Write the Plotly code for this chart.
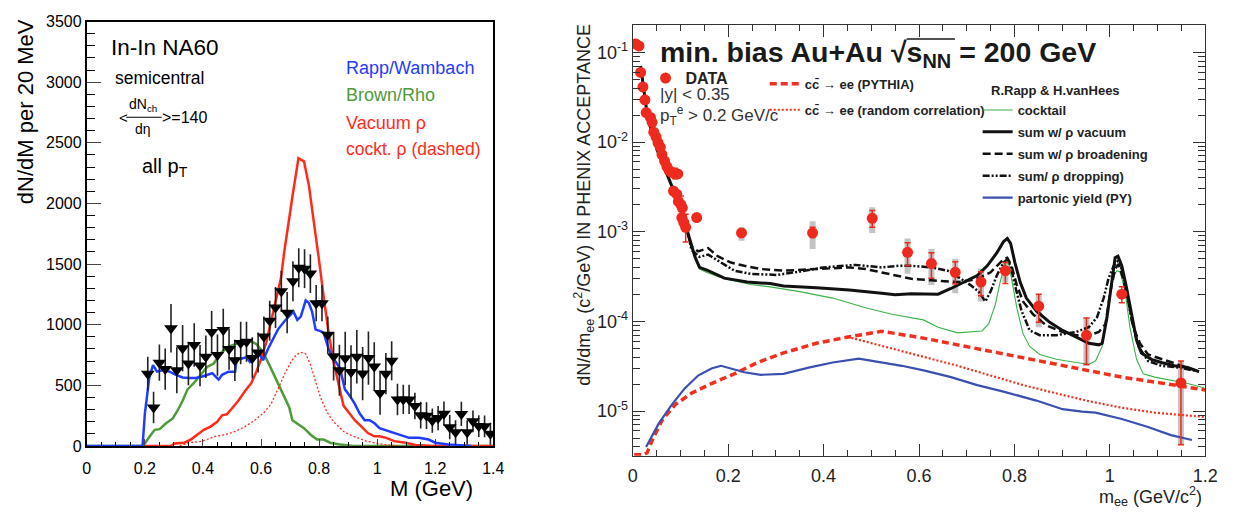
import plotly.graph_objects as go

W, H = 1237, 513
def px(x): return x / W
def py(y): return 1 - y / H

# ---------------- Left panel: In-In NA60 ----------------
na60_mass = [0.21, 0.23, 0.25, 0.27, 0.29, 0.31, 0.33, 0.35, 0.37, 0.39,
             0.41, 0.43, 0.45, 0.47, 0.49, 0.51, 0.53, 0.55, 0.57, 0.59,
             0.61, 0.63, 0.65, 0.67, 0.69, 0.71, 0.73, 0.75, 0.77, 0.79,
             0.81, 0.83, 0.85, 0.87, 0.89, 0.91, 0.93, 0.95, 0.97, 0.99,
             1.01, 1.03, 1.05, 1.07, 1.09, 1.11, 1.13, 1.15, 1.17, 1.19,
             1.21, 1.23, 1.25, 1.27, 1.29, 1.31, 1.33, 1.35, 1.37, 1.39]
na60_yield = [595, 317, 687, 634, 970, 624, 807, 680, 833, 663,
              736, 939, 750, 956, 799, 706, 850, 860, 726, 770,
              903, 1032, 1142, 1275, 1099, 1358, 1470, 1462, 1422, 1178,
              1178, 917, 740, 624, 723, 610, 736, 597, 725, 656,
              437, 596, 703, 384, 384, 384, 330, 254, 250, 210,
              230, 266, 155, 113, 264, 113, 203, 164, 162, 101]
na60_err = [140, 130, 150, 170, 200, 190, 190, 180, 180, 170,
            175, 175, 170, 175, 170, 170, 175, 165, 170, 165,
            165, 165, 170, 170, 170, 165, 160, 160, 160, 150,
            150, 150, 200, 210, 220, 220, 220, 220, 220, 200,
            180, 170, 160, 130, 120, 120, 110, 110, 110, 100,
            100, 100, 100, 100, 100, 100, 90, 90, 90, 90]

rw_mass = [0.0, 0.192, 0.2, 0.215, 0.228, 0.242, 0.262, 0.285, 0.307, 0.33, 0.353, 0.375,
           0.398, 0.415, 0.432, 0.443, 0.454, 0.466, 0.488, 0.511, 0.516, 0.533, 0.55,
           0.562, 0.578, 0.595, 0.607, 0.624, 0.641, 0.658, 0.68, 0.703, 0.712, 0.725,
           0.737, 0.754, 0.765, 0.776, 0.788, 0.805, 0.816, 0.833, 0.85, 0.872, 0.889,
           0.906, 0.923, 0.94, 0.957, 0.974, 0.991, 1.008, 1.042, 1.076, 1.11, 1.144,
           1.177, 1.2, 1.245, 1.302, 1.324]
rw_val = [0, 0, 267, 560, 667, 613, 627, 613, 587, 565, 560, 560,
          573, 587, 600, 573, 547, 587, 613, 613, 720, 720, 733,
          693, 720, 760, 707, 800, 880, 960, 1027, 1080, 1107, 1040,
          1067, 1200, 1179, 1107, 960, 947, 933, 800, 720, 640, 467,
          413, 347, 267, 213, 213, 187, 147, 120, 93, 67, 67,
          53, 27, 13, 5, 0]

br_mass = [0.0, 0.194, 0.217, 0.234, 0.251, 0.273, 0.296, 0.313, 0.33, 0.347, 0.369,
           0.392, 0.415, 0.437, 0.46, 0.482, 0.511, 0.533, 0.562, 0.584, 0.607, 0.629,
           0.652, 0.675, 0.697, 0.708, 0.725, 0.748, 0.771, 0.793, 0.816, 0.838, 0.872,
           0.918, 1.4]
br_val = [0, 0, 80, 133, 139, 187, 227, 293, 373, 467, 520,
          587, 653, 680, 760, 813, 840, 853, 867, 840, 773, 667,
          547, 427, 320, 213, 187, 147, 93, 53, 53, 27, 13,
          0, 0]

vac_mass = [0.195, 0.29, 0.302, 0.336, 0.358, 0.381, 0.403, 0.426, 0.449, 0.466, 0.482,
            0.499, 0.522, 0.545, 0.567, 0.584, 0.601, 0.618, 0.635, 0.652, 0.669, 0.68,
            0.692, 0.708, 0.729, 0.748, 0.765, 0.782, 0.799, 0.816, 0.833, 0.85, 0.867,
            0.884, 0.901, 0.923, 0.946, 0.968, 0.991, 1.008, 1.031, 1.059, 1.098, 1.132,
            1.189, 1.4]
vac_val = [0, 0, 21, 27, 53, 93, 133, 160, 200, 253, 261,
           307, 373, 453, 520, 613, 720, 853, 1027, 1227, 1387, 1600,
           1813, 2053, 2373, 2347, 2147, 1867, 1547, 1227, 933, 693, 507,
           333, 280, 213, 160, 107, 80, 80, 67, 40, 27, 8,
           0, 0]

cockt_mass = [0.32, 0.353, 0.398, 0.443, 0.477, 0.511, 0.545, 0.579, 0.612, 0.635, 0.658,
              0.68, 0.703, 0.72, 0.737, 0.754, 0.771, 0.788, 0.805, 0.827, 0.85, 0.884,
              0.918, 0.963, 1.019, 1.076]
cockt_val = [0, 27, 40, 80, 93, 120, 160, 213, 280, 347, 467,
             587, 693, 747, 773, 760, 667, 533, 400, 280, 200, 120,
             80, 40, 13, 0]

# ---------------- Right panel: PHENIX Au+Au ----------------
data_m = [0.0062, 0.0131, 0.0165, 0.0213, 0.0255, 0.0282, 0.0372, 0.0406, 0.0441, 0.0489,
          0.0530, 0.0578, 0.0613, 0.0668, 0.0716, 0.0764, 0.0819, 0.0854, 0.0888, 0.0922,
          0.0943, 0.0957, 0.101, 0.103, 0.104, 0.107, 0.111, 0.134, 0.228, 0.377,
          0.502, 0.576, 0.626, 0.676, 0.730, 0.781, 0.851, 0.951, 1.025, 1.149]
data_y = [0.124, 0.118, 0.0598, 0.0412, 0.0296, 0.0213, 0.0188, 0.0166, 0.0129, 0.0114,
          9.85e-3, 8.77e-3, 7.25e-3, 6.14e-3, 5.33e-3, 4.79e-3, 4.6e-3, 2.84e-3, 4.41e-3, 2.62e-3,
          4.41e-3, 2.18e-3, 2.01e-3, 1.44e-3, 1.85e-3, 1.27e-3, 1.12e-3, 1.44e-3, 9.7e-4, 9.7e-4,
          1.41e-3, 5.9e-4, 4.42e-4, 3.53e-4, 2.75e-4, 3.68e-4, 1.48e-4, 7.0e-5, 2.01e-4, 2.06e-5]
data_err_up = [0, 0, 0, 0, 0, 0, 0, 0, 0, 0,
               0, 0, 0, 0, 0, 0, 0, 0, 7e-4, 0,
               0, 0, 5e-4, 0, 0, 0, 4.5e-4, 5e-5, 5e-5, 1.5e-4,
               3.2e-4, 1.65e-4, 1.4e-4, 1.1e-4, 8.4e-5, 8.5e-5, 5.3e-5, 3.9e-5, 4.2e-5, 1.56e-5]
data_err_dn = [0, 0, 0, 0, 0, 0, 0, 0, 0, 0,
               0, 0, 0, 0, 0, 0, 0, 0, 5e-4, 0,
               0, 0, 3e-4, 0, 0, 0, 3.5e-4, 5e-5, 5e-5, 1.1e-4,
               2.9e-4, 1.73e-4, 1.4e-4, 9e-5, 8.2e-5, 1.04e-4, 5.0e-5, 3.7e-5, 4.0e-5, 1.64e-5]

sys_m = [0.228, 0.377, 0.502, 0.576, 0.626, 0.676, 0.730, 0.781, 0.851, 0.951, 1.149]
sys_y = [9.7e-4, 9.7e-4, 1.41e-3, 5.9e-4, 4.42e-4, 3.53e-4, 2.75e-4, 3.68e-4, 1.48e-4, 7.0e-5, 2.06e-5]
sys_hi = [1.125e-3, 1.31e-3, 1.88e-3, 8.41e-4, 6.41e-4, 5.0e-4, 3.9e-4, 4.71e-4, 1.98e-4, 1.1e-4, 3.62e-5]
sys_lo = [7.94e-4, 6.41e-4, 9.7e-4, 3.39e-4, 2.54e-4, 2.06e-4, 1.67e-4, 2.75e-4, 8.6e-5, 3.2e-5, 4.2e-6]

vac_sum_m = [0.0165, 0.0234, 0.0303, 0.0406, 0.0509, 0.0647, 0.0785, 0.0922, 0.106, 0.120,
             0.130, 0.140, 0.158, 0.192, 0.240, 0.288, 0.316, 0.385, 0.454, 0.522,
             0.550, 0.584, 0.640, 0.667, 0.695, 0.722, 0.743, 0.763, 0.777, 0.785,
             0.792, 0.801, 0.812, 0.825, 0.846, 0.874, 0.901, 0.935, 0.956, 0.977,
             0.984, 0.994, 1.004, 1.011, 1.017, 1.025, 1.035, 1.046, 1.056, 1.066,
             1.087, 1.108, 1.135, 1.163, 1.187]
vac_sum_y = [7.06e-2, 3.64e-2, 2.04e-2, 1.24e-2, 8.2e-3, 5.42e-3, 3.58e-3, 2.37e-3, 1.44e-3, 8.07e-4,
             5.33e-4, 4.0e-4, 3.68e-4, 3.04e-4, 2.75e-4, 2.64e-4, 2.49e-4, 2.37e-4, 2.24e-4, 2.06e-4,
             1.98e-4, 2.03e-4, 2.01e-4, 2.33e-4, 2.75e-4, 3.25e-4, 4.17e-4, 5.80e-4, 7.74e-4, 8.41e-4,
             7.43e-4, 4.53e-4, 2.75e-4, 1.82e-4, 1.31e-4, 9.77e-5, 7.94e-5, 6.47e-5, 5.71e-5, 5.48e-5,
             5.71e-5, 1.11e-4, 2.75e-4, 5.12e-4, 5.33e-4, 4.17e-4, 2.37e-4, 1.11e-4, 6.19e-5, 4.45e-5,
             3.78e-5, 3.48e-5, 3.2e-5, 3.07e-5, 2.76e-5]

broad_m = [0.106, 0.115, 0.123, 0.137, 0.158, 0.178, 0.206, 0.234, 0.268, 0.316,
           0.385, 0.454, 0.488, 0.522, 0.557, 0.584, 0.626, 0.681, 0.708, 0.729,
           0.750, 0.763, 0.777, 0.785, 0.794, 0.805, 0.818, 0.839, 0.867, 0.901,
           0.929, 0.956, 0.977, 0.991, 1.001, 1.011, 1.018, 1.028, 1.039, 1.049,
           1.063, 1.080, 1.101, 1.128, 1.163, 1.187]
broad_y = [1.44e-3, 1.0e-3, 6.84e-4, 6.04e-4, 6.56e-4, 5.33e-4, 4.53e-4, 4.17e-4, 3.84e-4, 3.68e-4,
           3.84e-4, 4.0e-4, 3.84e-4, 3.53e-4, 3.25e-4, 2.99e-4, 2.87e-4, 2.75e-4, 2.87e-4, 3.1e-4,
           3.53e-4, 4.17e-4, 4.92e-4, 5.12e-4, 4.17e-4, 2.54e-4, 1.67e-4, 1.2e-4, 9.0e-5, 7.62e-5,
           7.02e-5, 7.02e-5, 7.62e-5, 9.38e-5, 2.15e-4, 3.84e-4, 4.35e-4, 2.99e-4, 1.67e-4, 8.63e-5,
           5.71e-5, 4.28e-5, 3.94e-5, 3.48e-5, 3.07e-5, 2.76e-5]

drop_m = [0.106, 0.115, 0.123, 0.140, 0.158, 0.185, 0.213, 0.247, 0.302, 0.350,
          0.399, 0.467, 0.522, 0.557, 0.584, 0.626, 0.660, 0.688, 0.708, 0.725,
          0.739, 0.750, 0.763, 0.777, 0.785, 0.792, 0.801, 0.815, 0.832, 0.853,
          0.888, 0.929, 0.956, 0.973, 0.987, 0.997, 1.008, 1.017, 1.025, 1.035,
          1.046, 1.060, 1.080, 1.108, 1.142, 1.187]
drop_y = [1.44e-3, 1.0e-3, 6.3e-4, 5.24e-4, 5.56e-4, 4.53e-4, 3.68e-4, 3.39e-4, 3.3e-4, 3.59e-4,
          4.0e-4, 4.27e-4, 4.0e-4, 4.17e-4, 4.17e-4, 4.0e-4, 3.68e-4, 2.99e-4, 2.54e-4, 2.15e-4,
          1.67e-4, 2.15e-4, 3.25e-4, 4.53e-4, 4.92e-4, 4.17e-4, 2.54e-4, 1.31e-4, 7.94e-5, 7.02e-5,
          7.02e-5, 7.62e-5, 8.63e-5, 1.11e-4, 1.82e-4, 2.99e-4, 4.17e-4, 4.71e-4, 3.84e-4, 2.15e-4,
          1.02e-4, 5.26e-5, 3.62e-5, 3.2e-5, 3.07e-5, 2.76e-5]

cocktail_m = [0.130, 0.140, 0.158, 0.192, 0.247, 0.288, 0.350, 0.419, 0.488, 0.543,
              0.609, 0.640, 0.681, 0.732, 0.746, 0.760, 0.770, 0.781, 0.788, 0.794,
              0.805, 0.818, 0.832, 0.853, 0.888, 0.929, 0.956, 0.970, 0.984, 0.997,
              1.008, 1.015, 1.022, 1.032, 1.042, 1.056, 1.070, 1.094, 1.128, 1.163, 1.197]
cocktail_y = [5.0e-4, 3.84e-4, 3.47e-4, 3.0e-4, 2.58e-4, 2.43e-4, 2.15e-4, 1.82e-4, 1.42e-4, 1.2e-4,
              1.04e-4, 8.63e-5, 7.45e-5, 7.82e-5, 9.38e-5, 1.54e-4, 2.75e-4, 4.53e-4, 4.53e-4, 2.99e-4,
              1.42e-4, 7.3e-5, 5.26e-5, 4.28e-5, 3.78e-5, 3.48e-5, 3.33e-5, 3.62e-5, 5.26e-5, 1.54e-4,
              3.25e-4, 3.68e-4, 3.53e-4, 2.15e-4, 8.63e-5, 3.78e-5, 2.6e-5, 2.39e-5, 2.2e-5, 2.03e-5, 1.82e-5]

pythia_m = [0.003, 0.023, 0.030, 0.041, 0.061, 0.089, 0.123, 0.165, 0.213, 0.261,
            0.316, 0.385, 0.454, 0.522, 0.543, 0.612, 0.681, 0.750, 0.818, 0.887,
            0.956, 1.025, 1.094, 1.2]
pythia_y = [3.25e-6, 3.25e-6, 3.42e-6, 4.76e-6, 7.83e-6, 1.18e-5, 1.58e-5, 2.03e-5, 2.6e-5, 3.48e-5,
            4.45e-5, 5.71e-5, 6.73e-5, 7.76e-5, 7.45e-5, 6.47e-5, 5.48e-5, 4.64e-5, 3.94e-5, 3.33e-5,
            2.83e-5, 2.39e-5, 2.11e-5, 1.72e-5]

random_m = [0.450, 0.488, 0.543, 0.612, 0.681, 0.750, 0.818, 0.887, 0.956, 1.025, 1.094, 1.2]
random_y = [6.73e-5, 5.96e-5, 4.92e-5, 3.94e-5, 3.2e-5, 2.49e-5, 1.95e-5, 1.58e-5, 1.29e-5,
            1.09e-5, 9.6e-6, 8.6e-6]

parton_m = [0.028, 0.054, 0.082, 0.109, 0.137, 0.165, 0.185, 0.206, 0.234, 0.268,
            0.316, 0.371, 0.419, 0.474, 0.522, 0.564, 0.612, 0.667, 0.722, 0.777,
            0.846, 0.901, 0.942, 0.970, 1.025, 1.080, 1.128, 1.172]
parton_y = [3.97e-6, 7.2e-6, 1.18e-5, 1.79e-5, 2.49e-5, 2.99e-5, 3.2e-5, 2.99e-5, 2.71e-5, 2.54e-5,
            2.6e-5, 3.07e-5, 3.48e-5, 3.84e-5, 3.48e-5, 3.2e-5, 2.83e-5, 2.39e-5, 1.95e-5, 1.65e-5,
            1.31e-5, 1.05e-5, 9.86e-6, 9.6e-6, 8.17e-6, 6.64e-6, 5.4e-6, 4.76e-6]

log_tick_vals = [1e-5, 1e-4, 1e-3, 1e-2, 1e-1]
log_tick_text = ["10<sup>-5</sup>", "10<sup>-4</sup>", "10<sup>-3</sup>", "10<sup>-2</sup>", "10<sup>-1</sup>"]

# ---------------- Figure ----------------
FONT = "Liberation Sans"
BLUE, GREEN, RED = "#1f3cff", "#4f9a3a", "#ff2b1a"
PRED = "#ee2a1e"
fig = go.Figure()

# left panel traces
fig.add_trace(go.Scatter(x=br_mass, y=br_val, mode="lines", line=dict(color=GREEN, width=2.5),
                         xaxis="x", yaxis="y", showlegend=False))
fig.add_trace(go.Scatter(x=cockt_mass, y=cockt_val, mode="lines",
                         line=dict(color=RED, width=1.3, dash="2px,2px"),
                         xaxis="x", yaxis="y", showlegend=False))
fig.add_trace(go.Scatter(x=vac_mass, y=vac_val, mode="lines", line=dict(color=RED, width=2.5),
                         xaxis="x", yaxis="y", showlegend=False))
fig.add_trace(go.Scatter(x=rw_mass, y=rw_val, mode="lines", line=dict(color=BLUE, width=2.5),
                         xaxis="x", yaxis="y", showlegend=False))
fig.add_trace(go.Scatter(x=na60_mass, y=na60_yield, mode="markers",
                         marker=dict(symbol="triangle-down", size=12, color="black"),
                         error_y=dict(type="data", array=na60_err, color="#222", thickness=1.6, width=0),
                         xaxis="x", yaxis="y", showlegend=False))

# right panel traces
fig.add_trace(go.Scatter(x=sys_m, y=sys_y, mode="markers",
                         marker=dict(size=1, color="rgba(0,0,0,0)"),
                         error_y=dict(type="data", symmetric=False,
                                      array=[h - v for h, v in zip(sys_hi, sys_y)],
                                      arrayminus=[v - l for v, l in zip(sys_y, sys_lo)],
                                      color="rgba(175,175,175,0.75)", thickness=6, width=0),
                         xaxis="x2", yaxis="y2", showlegend=False))
fig.add_trace(go.Scatter(x=pythia_m, y=pythia_y, mode="lines", name="<b>cc̄ → ee (PYTHIA)</b>",
                         line=dict(color="#f0301e", width=3.5, dash="7px,4px"),
                         xaxis="x2", yaxis="y2", legend="legend2", legendgroup="a"))
fig.add_trace(go.Scatter(x=random_m, y=random_y, mode="lines",
                         name="<b>cc̄ → ee (random correlation)</b>",
                         line=dict(color="#f0301e", width=2.2, dash="2px,2px"),
                         xaxis="x2", yaxis="y2", legend="legend2", legendgroup="b"))
fig.add_trace(go.Scatter(x=parton_m, y=parton_y, mode="lines", name="<b>partonic yield (PY)</b>",
                         line=dict(color="#3a4fb0", width=2.2),
                         xaxis="x2", yaxis="y2", legend="legend3", legendgroup="g", legendrank=5))
fig.add_trace(go.Scatter(x=cocktail_m, y=cocktail_y, mode="lines", name="<b>cocktail</b>",
                         line=dict(color="#3cb24a", width=1.1),
                         xaxis="x2", yaxis="y2", legend="legend3", legendgroup="c", legendrank=1))
fig.add_trace(go.Scatter(x=drop_m, y=drop_y, mode="lines", name="<b>sum/ ρ dropping)</b>",
                         line=dict(color="#111", width=2.5, dash="7px,2px,2px,2px,2px,2px"),
                         xaxis="x2", yaxis="y2", legend="legend3", legendgroup="f", legendrank=4))
fig.add_trace(go.Scatter(x=broad_m, y=broad_y, mode="lines", name="<b>sum w/ ρ broadening</b>",
                         line=dict(color="#111", width=2.5, dash="8px,4px"),
                         xaxis="x2", yaxis="y2", legend="legend3", legendgroup="e", legendrank=3))
fig.add_trace(go.Scatter(x=vac_sum_m, y=vac_sum_y, mode="lines", name="<b>sum w/ ρ vacuum</b>",
                         line=dict(color="#111", width=3),
                         xaxis="x2", yaxis="y2", legend="legend3", legendgroup="d", legendrank=2))
fig.add_trace(go.Scatter(x=data_m, y=data_y, mode="markers", name="<b>DATA</b>",
                         marker=dict(symbol="circle", size=11, color=PRED),
                         error_y=dict(type="data", symmetric=False, array=data_err_up,
                                      arrayminus=data_err_dn, color=PRED, thickness=1.5, width=3),
                         xaxis="x2", yaxis="y2", legend="legend"))

axis_common = dict(showgrid=False, zeroline=False, ticks="inside", showline=True)

fig.update_layout(
    width=W, height=H, autosize=False,
    margin=dict(l=0, r=0, t=0, b=0),
    paper_bgcolor="white", plot_bgcolor="white",
    font=dict(family=FONT, color="black"),
    xaxis=dict(axis_common, domain=[px(83), px(495.5)], range=[0, 1.4], anchor="y",
               tick0=0, dtick=0.2, ticklen=7, tickwidth=1.2, mirror=True,
               linecolor="black", linewidth=1.5,
               minor=dict(ticks="inside", dtick=0.05, ticklen=4, tickcolor="black"),
               tickfont=dict(size=16, family=FONT, color="black"), ticklabelstandoff=7),
    yaxis=dict(axis_common, domain=[py(453), py(14)], range=[0, 3500], anchor="x",
               tick0=0, dtick=500, ticklen=14, tickwidth=1.2, mirror=True,
               linecolor="black", linewidth=2,
               minor=dict(ticks="inside", dtick=100, ticklen=8, tickcolor="black"),
               tickfont=dict(size=16, family=FONT, color="black")),
    xaxis2=dict(axis_common, domain=[px(637), px(1218)], range=[0, 1.2], anchor="y2",
                tick0=0, dtick=0.2, ticklen=12, tickwidth=1, mirror="ticks",
                linecolor="#333", linewidth=1, tickcolor="#333",
                minor=dict(ticks="inside", dtick=0.05, ticklen=6, tickcolor="#333"),
                tickfont=dict(size=18, family=FONT, color="#222"), ticklabelstandoff=4),
    yaxis2=dict(axis_common, type="log", domain=[py(463), py(18)], range=[-5.497, -0.699],
                anchor="x2", tickvals=log_tick_vals, ticktext=log_tick_text,
                ticklen=12, tickwidth=1, mirror="ticks", linecolor="#333", linewidth=1,
                tickcolor="#333",
                minor=dict(ticks="inside", ticklen=7, tickcolor="#333",
                           tickvals=[k * 10.0 ** e for e in range(-6, 0) for k in range(2, 10)]),
                tickfont=dict(size=18, family=FONT, color="#222")),
    legend=dict(x=px(650), y=py(55), xanchor="left", yanchor="top", bgcolor="rgba(0,0,0,0)",
                font=dict(size=16, family=FONT, color="#222")),
    legend2=dict(x=px(771), y=py(63), xanchor="left", yanchor="top", bgcolor="rgba(0,0,0,0)",
                 font=dict(size=13, family=FONT, color="#222"), tracegroupgap=6,
                 traceorder="grouped"),
    legend3=dict(x=px(987), y=py(90), xanchor="left", yanchor="top", bgcolor="rgba(0,0,0,0)",
                 font=dict(size=13, family=FONT, color="#222"), tracegroupgap=2,
                 traceorder="grouped"),
)

ann = []
def A(text, x, y, size, color="black", xanchor="left", yanchor="middle", angle=0):
    ann.append(dict(text=text, x=px(x), y=py(y), xref="paper", yref="paper", showarrow=False,
                    xanchor=xanchor, yanchor=yanchor, textangle=angle,
                    font=dict(size=size, color=color, family=FONT)))

# left panel texts
A("In-In NA60", 106, 41, 22.5)
A("semicentral", 110, 72, 17.5)
A("&lt;", 114, 113, 15)
A("dN<sub>ch</sub>", 140, 100, 14, xanchor="center")
A("dη", 140, 125, 14, xanchor="center")
A("&gt;=140", 157, 113, 16)
A("all p<sub>T</sub>", 137, 165, 20)
A("Rapp/Wambach", 344, 62, 18, BLUE)
A("Brown/Rho", 344, 90, 18, GREEN)
A("Vacuum ρ", 344, 119, 18, RED)
A("cockt. ρ (dashed)", 344, 146, 17.5, RED)
A("dN/dM per 20 MeV", 21, 107, 22, angle=-90, xanchor="center")
A("M (GeV)", 477, 497, 22, xanchor="right")

# right panel texts
A("<b>min. bias Au+Au √s<sub>NN</sub> = 200 GeV</b>", 663, 48, 28.5, "#1a1a1a")
A("|y| &lt; 0.35", 663, 89, 17, "#333")
A("p<sub>T</sub><sup>e</sup> &gt; 0.2 GeV/c", 663, 111, 17, "#333")
A("<b>R.Rapp &amp; H.vanHees</b>", 999, 85, 13, "#222")
A("dN/dm<sub>ee</sub> (c<sup>2</sup>/GeV) IN PHENIX ACCEPTANCE", 587, 203, 18, "#222",
  xanchor="center", angle=-90)
A("m<sub>ee</sub> (GeV/c<sup>2</sup>)", 1217, 505, 18, "#222", xanchor="right")

fig.update_layout(annotations=ann)

# fraction bar and sqrt overline
fig.add_shape(type="line", xref="paper", yref="paper", x0=px(123), x1=px(159), y0=py(113),
              y1=py(113), line=dict(color="black", width=1))
fig.add_shape(type="line", xref="paper", yref="paper", x0=px(915), x1=px(964), y0=py(32),
              y1=py(32), line=dict(color="#1a1a1a", width=1.5))

fig.write_html("out.html")
